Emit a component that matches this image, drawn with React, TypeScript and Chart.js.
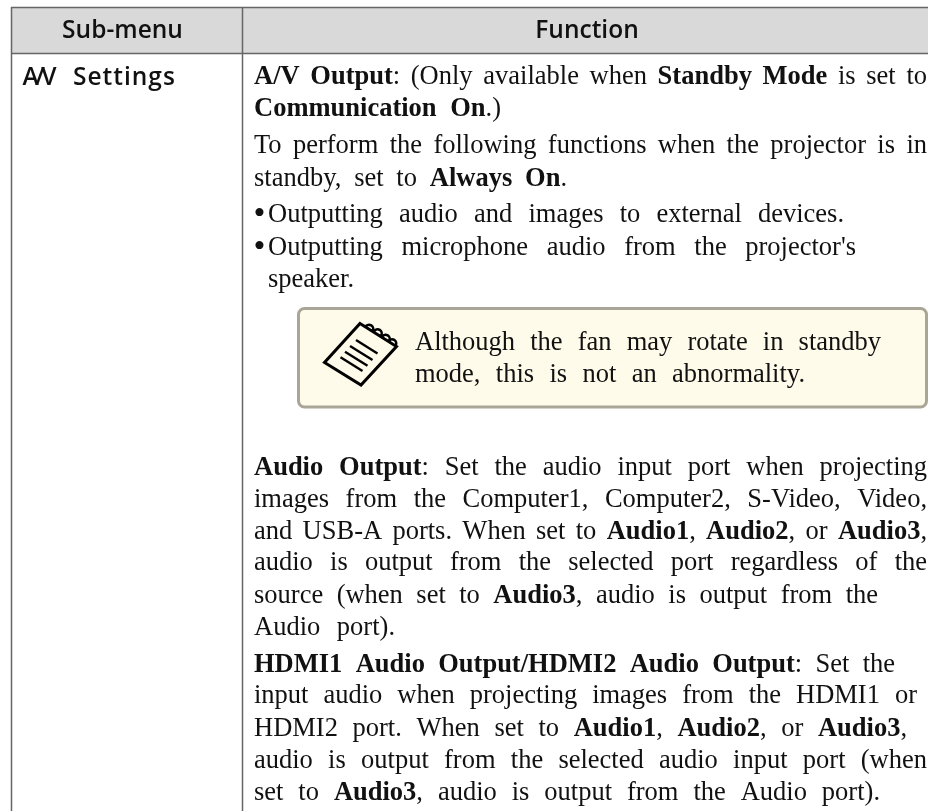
import { useEffect, useRef } from "react";
import { Chart, registerables } from "chart.js";

Chart.register(...registerables);

type Run = [string, boolean?];
type Line = { x: number; y: number; right: number; bullet?: boolean; runs: Run[] };

const bodyFont = '"Liberation Serif"';
const headFont = '"Open Sans"';
const BODY_SIZE = 26.5;

const headers = ["Sub-menu", "Function"];
const rowLabelWords = ["A/V", "Settings"];

const bodyLines: Line[] = [
  { x: 254, y: 84, right: 927, runs: [["A/V Output", true], [": (Only available when "], ["Standby Mode", true], [" is set to"]] },
  { x: 254, y: 116, right: 501, runs: [["Communication On", true], [".)"]] },
  { x: 254, y: 153, right: 927, runs: [["To perform the following functions when the projector is in"]] },
  { x: 254, y: 186, right: 567, runs: [["standby, set to "], ["Always On", true], ["."]] },
  { x: 268, y: 222, right: 844, bullet: true, runs: [["Outputting audio and images to external devices."]] },
  { x: 268, y: 255, right: 856, bullet: true, runs: [["Outputting microphone audio from the projector's"]] },
  { x: 268, y: 287, right: 346, runs: [["speaker."]] },
  { x: 415, y: 350, right: 881, runs: [["Although the fan may rotate in standby"]] },
  { x: 415, y: 382, right: 805, runs: [["mode, this is not an abnormality."]] },
  { x: 254, y: 475, right: 927, runs: [["Audio Output", true], [": Set the audio input port when projecting"]] },
  { x: 254, y: 507, right: 927, runs: [["images from the Computer1, Computer2, S-Video, Video,"]] },
  { x: 254, y: 539, right: 927, runs: [["and USB-A ports. When set to "], ["Audio1", true], [", "], ["Audio2", true], [", or "], ["Audio3", true], [","]] },
  { x: 254, y: 570, right: 927, runs: [["audio is output from the selected port regardless of the"]] },
  { x: 254, y: 603, right: 878, runs: [["source (when set to "], ["Audio3", true], [", audio is output from the"]] },
  { x: 254, y: 635, right: 395, runs: [["Audio port)."]] },
  { x: 254, y: 672, right: 895, runs: [["HDMI1 Audio Output/HDMI2 Audio Output", true], [": Set the"]] },
  { x: 254, y: 703, right: 917, runs: [["input audio when projecting images from the HDMI1 or"]] },
  { x: 254, y: 736, right: 907, runs: [["HDMI2 port. When set to "], ["Audio1", true], [", "], ["Audio2", true], [", or "], ["Audio3", true], [","]] },
  { x: 254, y: 768, right: 927, runs: [["audio is output from the selected audio input port (when"]] },
  { x: 254, y: 800, right: 880, runs: [["set to "], ["Audio3", true], [", audio is output from the Audio port)."]] },
];

const App = () => {
  const ref = useRef<HTMLCanvasElement>(null);
  useEffect(() => {
    const plugin = {
      id: "page",
      beforeDatasetsDraw(chart: any) {
        const { ctx, scales } = chart;
        const X = (v: number) => scales.x.getPixelForValue(v);
        const Y = (v: number) => scales.y.getPixelForValue(v);
        ctx.save();
        ctx.fillStyle = "#d9d9d9";
        ctx.fillRect(X(11), Y(7), X(928) - X(11), Y(53) - Y(7));
        ctx.beginPath();
        ctx.roundRect(X(298.5), Y(308.5), X(926.5) - X(298.5), Y(407) - Y(308.5), 6);
        ctx.fillStyle = "#fefbea";
        ctx.fill();
        ctx.lineWidth = 3;
        ctx.strokeStyle = "#aaa697";
        ctx.stroke();
        ctx.restore();
      },
      afterDraw(chart: any) {
        const { ctx, scales } = chart;
        const X = (v: number) => scales.x.getPixelForValue(v);
        const Y = (v: number) => scales.y.getPixelForValue(v);
        ctx.save();
        ctx.textBaseline = "alphabetic";
        ctx.fillStyle = "#111";

        // header and row label
        ctx.font = `600 24.5px ${headFont}`;
        ctx.textAlign = "center";
        ctx.fillText(headers[0], X(122.5), Y(38));
        ctx.fillText(headers[1], X(587), Y(38));
        ctx.textAlign = "left";
        ctx.letterSpacing = "-3.5px";
        ctx.fillText(rowLabelWords[0], X(22.5), Y(85));
        ctx.letterSpacing = "1px";
        ctx.fillText(rowLabelWords[1], X(73), Y(85));
        ctx.letterSpacing = "0px";

        // justified body text
        for (const line of bodyLines) {
          if (line.bullet) {
            ctx.font = `34px ${bodyFont}`;
            ctx.fillText("•", X(253.5), Y(line.y + 2));
          }
          const pieces: { t: string; bold: boolean; gapBefore: boolean }[] = [];
          let pendingGap = false;
          for (const [text, bold] of line.runs) {
            const parts = text.split(/( )/);
            for (const p of parts) {
              if (p === " ") pendingGap = true;
              else if (p) {
                pieces.push({ t: p, bold: !!bold, gapBefore: pendingGap && pieces.length > 0 });
                pendingGap = false;
              }
            }
          }
          let natural = 0;
          let gaps = 0;
          for (const p of pieces) {
            ctx.font = `${p.bold ? "bold " : ""}${BODY_SIZE}px ${bodyFont}`;
            natural += ctx.measureText(p.t).width;
            if (p.gapBefore) gaps++;
          }
          const gap = gaps ? (line.right - line.x - natural) / gaps : 0;
          let x = line.x;
          for (const p of pieces) {
            if (p.gapBefore) x += gap;
            ctx.font = `${p.bold ? "bold " : ""}${BODY_SIZE}px ${bodyFont}`;
            ctx.fillText(p.t, X(x), Y(line.y));
            x += ctx.measureText(p.t).width;
          }
        }

        // note icon
        ctx.strokeStyle = "#000";
        ctx.lineWidth = 3;
        ctx.lineJoin = "miter";
        ctx.beginPath();
        ctx.moveTo(X(360), Y(323.5));
        ctx.lineTo(X(396.5), Y(346.5));
        ctx.lineTo(X(361), Y(385));
        ctx.lineTo(X(324.5), Y(362.5));
        ctx.closePath();
        ctx.stroke();
        ctx.lineWidth = 2.4;
        const rules: [number, number, number, number][] = [
          [356, 340, 377.5, 353.5],
          [350, 346, 372.5, 360],
          [345, 351.7, 367.5, 365.7],
          [340.5, 357.3, 362.5, 371],
        ];
        for (const [a, b, c, d] of rules) {
          ctx.beginPath();
          ctx.moveTo(X(a), Y(b));
          ctx.lineTo(X(c), Y(d));
          ctx.stroke();
        }
        ctx.lineWidth = 2.6;
        const coils: [number, number][] = [
          [369, 329],
          [377.5, 333.5],
          [385.5, 339],
          [392, 343.5],
        ];
        for (const [a, b] of coils) {
          ctx.beginPath();
          ctx.arc(X(a), Y(b), 4.2, Math.PI + 0.56, Math.PI * 2 + 0.56);
          ctx.stroke();
        }
        ctx.restore();
      },
    };
    const rule = (x1: number, y1: number, x2: number, y2: number) => ({
      data: [{ x: x1, y: y1 }, { x: x2, y: y2 }],
      showLine: true,
      borderColor: "#666",
      borderWidth: 1.5,
      pointRadius: 0,
    });
    const chart = new Chart(ref.current!, {
      type: "scatter",
      data: {
        datasets: [
          rule(11, 7.5, 928, 7.5),
          rule(11, 53.5, 928, 53.5),
          rule(11.5, 7, 11.5, 811),
          rule(242.5, 7, 242.5, 811),
        ],
      },
      options: {
        animation: false,
        responsive: false,
        layout: { padding: 0 },
        plugins: { legend: { display: false }, tooltip: { enabled: false } },
        scales: {
          x: { type: "linear", min: 0, max: 928, display: false },
          y: { type: "linear", min: 0, max: 811, reverse: true, display: false },
        },
      },
      plugins: [plugin],
    });
    return () => chart.destroy();
  }, []);
  return <canvas ref={ref} width={928} height={811} style={{ position: "fixed", left: 0, top: 0 }} />;
};

export default App;
